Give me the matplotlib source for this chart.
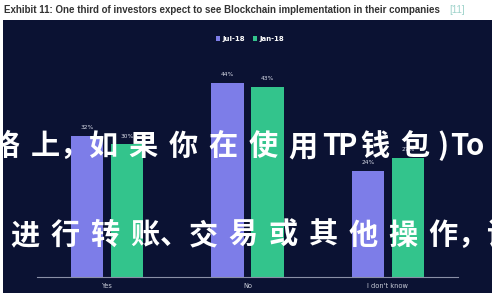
import matplotlib.pyplot as plt
from matplotlib.patches import Rectangle
import numpy as np

# data
categories = ['Yes', 'No', "I don't know"]
jul18 = [32, 44, 24]
jan18 = [30, 43, 27]
series_names = ['Jul-18', 'Jan-18']

title = 'Exhibit 11: One third of investors expect to see Blockchain implementation in their companies'
overlay1 = '络上，如果你在使用TP钱包)To'
overlay2 = '进行转账、交易或其他操作，请'

bg = '#0b1233'
c_jul = '#7d7de8'
c_jan = '#33c48c'

fig = plt.figure(figsize=(5, 3), dpi=100)
fig.patch.set_facecolor('white')

# dark panel behind the chart
fig.patches.append(Rectangle((3 / 500, 1 - 293 / 300), 489 / 500, 273 / 300,
                             transform=fig.transFigure, facecolor=bg,
                             edgecolor='none', zorder=-1))

# title above the panel
fig.text(4 / 500, 1 - 10 / 300, title, fontsize=7, fontweight='bold',
         family='Liberation Sans', color='#333333', va='center', ha='left')
fig.text(449 / 500, 1 - 10 / 300, '[11]', fontsize=7,
         family='Liberation Sans', color='#9fd3cb', va='center', ha='left')

ax = fig.add_axes([37 / 500, 1 - 277 / 300, 421 / 500, 221 / 300])
ax.set_facecolor('none')

x = np.arange(len(categories))
w = 0.229
off = 0.143
b1 = ax.bar(x - off, jul18, w, color=c_jul, label=series_names[0])
b2 = ax.bar(x + off, jan18, w, color=c_jan, label=series_names[1])

for bars, vals in [(b1, jul18), (b2, jan18)]:
    for b, v in zip(bars, vals):
        ax.annotate(f'{v}%', (b.get_x() + b.get_width() / 2, v),
                    xytext=(0, 4), textcoords='offset points',
                    ha='center', va='bottom', fontsize=4.2, color='#d8dbe8')

ax.set_xlim(-0.5, 2.5)
ax.set_ylim(0, 50)
ax.set_xticks(x)
ax.set_xticklabels(categories, fontsize=4.8, color='#c8ccd8')
ax.tick_params(axis='x', length=0, pad=4)
ax.set_yticks([])
for s in ['top', 'right', 'left']:
    ax.spines[s].set_visible(False)
ax.spines['bottom'].set_color('#8a8fa6')
ax.spines['bottom'].set_linewidth(0.8)

leg = fig.legend(handles=[b1, b2], loc='center', bbox_to_anchor=(0.5, 1 - 39 / 300),
                 ncol=2, frameon=False, fontsize=5, handlelength=0.6,
                 handleheight=0.6, handletextpad=0.3, columnspacing=1.2)
for t in leg.get_texts():
    t.set_color('white')
    t.set_fontweight('bold')


# white overlay text, one character at a time (wide letter spacing)
def char_width(ch):
    if ch in '，、':
        return 18
    if ord(ch) < 128:
        return 16
    return 40


def draw_line(s, first_center, baseline):
    cx = first_center
    prev = None
    for ch in s:
        if prev is not None:
            cx += (char_width(prev) + char_width(ch)) / 2
        fig.text(cx / 500, 1 - baseline / 300, ch, fontsize=21, fontweight='bold',
                 family=['Noto Sans CJK SC', 'DejaVu Sans'], color='white',
                 ha='center', va='baseline', zorder=10)
        prev = ch


draw_line(overlay1, 5, 155)
draw_line(overlay2, 25, 244)

fig.savefig('out.png', dpi=100)
